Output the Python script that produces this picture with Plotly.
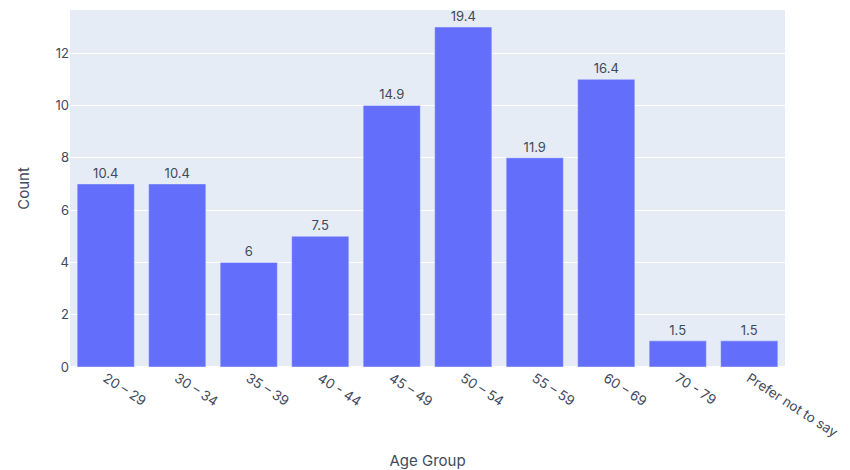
import plotly.graph_objects as go

# Respondents per age group
age_groups = ["20 – 29", "30 – 34", "35 – 39", "40 - 44", "45 – 49",
              "50 – 54", "55 – 59", "60 – 69", "70 - 79", "Prefer not to say"]
counts = [7, 7, 4, 5, 10, 13, 8, 11, 1, 1]
# Share of all respondents (%), shown above each bar
percent_labels = ["10.4", "10.4", "6", "7.5", "14.9", "19.4", "11.9", "16.4", "1.5", "1.5"]

text_color = "#3f4a5c"

fig = go.Figure(
    go.Bar(
        x=age_groups,
        y=counts,
        text=percent_labels,
        textposition="outside",
        marker_color="#636efa",
        textfont=dict(size=13, color=text_color),
        cliponaxis=False,
    )
)

fig.update_layout(
    template="plotly",
    width=850,
    height=470,
    margin=dict(l=70, r=65, t=10, b=103),
    font=dict(family="Inter, Arial, sans-serif", size=13, color=text_color),
    xaxis=dict(
        title=dict(text="Age Group", font=dict(size=15), standoff=22),
        tickangle=33,
        tickfont=dict(size=13.5),
        automargin=False,
    ),
    yaxis=dict(
        title=dict(text="Count", font=dict(size=15), standoff=22),
        range=[0, 13.65],
        dtick=2,
        tickfont=dict(size=13),
        automargin=False,
    ),
    bargap=0.2,
    showlegend=False,
)

fig.write_html("out.html")
